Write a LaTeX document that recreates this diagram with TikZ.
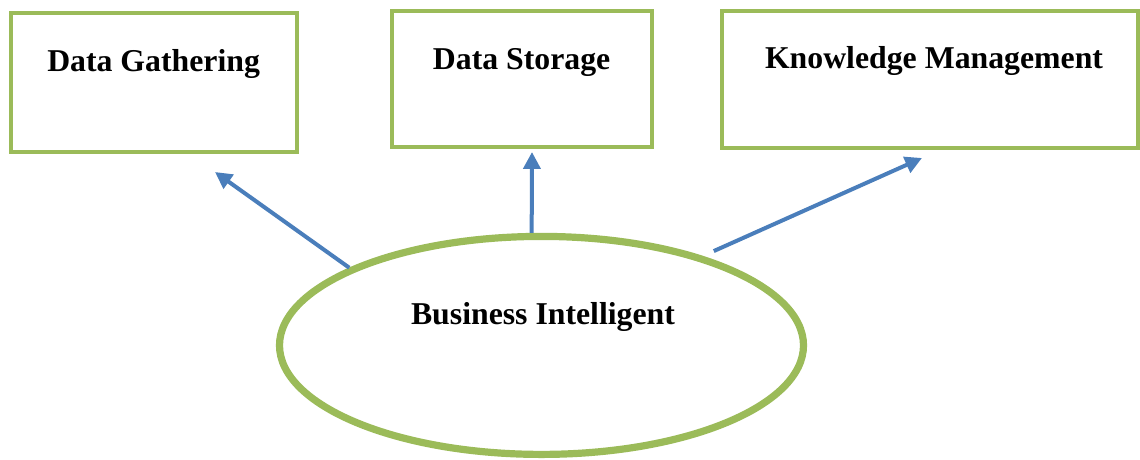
\documentclass[tikz,border=0pt]{standalone}
\usepackage{fontspec}
\setmainfont{Liberation Serif}
\usepackage{xcolor}
\usetikzlibrary{arrows.meta,shapes.geometric}
\definecolor{BIGreen}{HTML}{9BBB59}
\definecolor{BIBlue}{HTML}{4A7EBB}
\tikzset{
  box/.style={draw=BIGreen,line width=0.1cm,rectangle,inner sep=0pt},
  title/.style={anchor=base,font=\fontsize{22.6}{27}\selectfont\bfseries},
  link/.style={draw=BIBlue,line width=0.1cm,-{Triangle[length=0.42cm,width=0.42cm]}}
}
\begin{document}
\begin{tikzpicture}[x=1cm,y=1cm]
\path[use as bounding box] (0,0) rectangle (28.50,11.475);
\node[box,minimum width=7.15cm,minimum height=3.475cm] (gather) at (3.85,9.4125) {};
\node[title] (gathertxt) at (3.84,9.70) {Data Gathering};
\node[box,minimum width=6.50cm,minimum height=3.40cm] (storage) at (13.05,9.50) {};
\node[title] (storagetxt) at (13.04,9.75) {Data Storage};
\node[box,minimum width=10.40cm,minimum height=3.425cm] (knowledge) at (23.25,9.4875) {};
\node[title] (knowledgetxt) at (23.35,9.775) {Knowledge Management};
\node[draw=BIGreen,line width=0.18cm,ellipse,inner sep=0pt,minimum width=13.10cm,minimum height=5.45cm] (bi) at (13.5375,2.84) {};
\node[title] (bitxt) at (13.575,3.375) {Business Intelligent};
\coordinate (gathertip) at (5.375,7.175);
\coordinate (storagetip) at (13.30,7.675);
\coordinate (knowledgetip) at (23.05,7.525);
\draw[link] (bi.158) -- (gathertip);
\draw[link] (bi.95) -- (storagetip);
\draw[link,shorten <=0.30cm] (bi.29) -- (knowledgetip);
\end{tikzpicture}
\end{document}
